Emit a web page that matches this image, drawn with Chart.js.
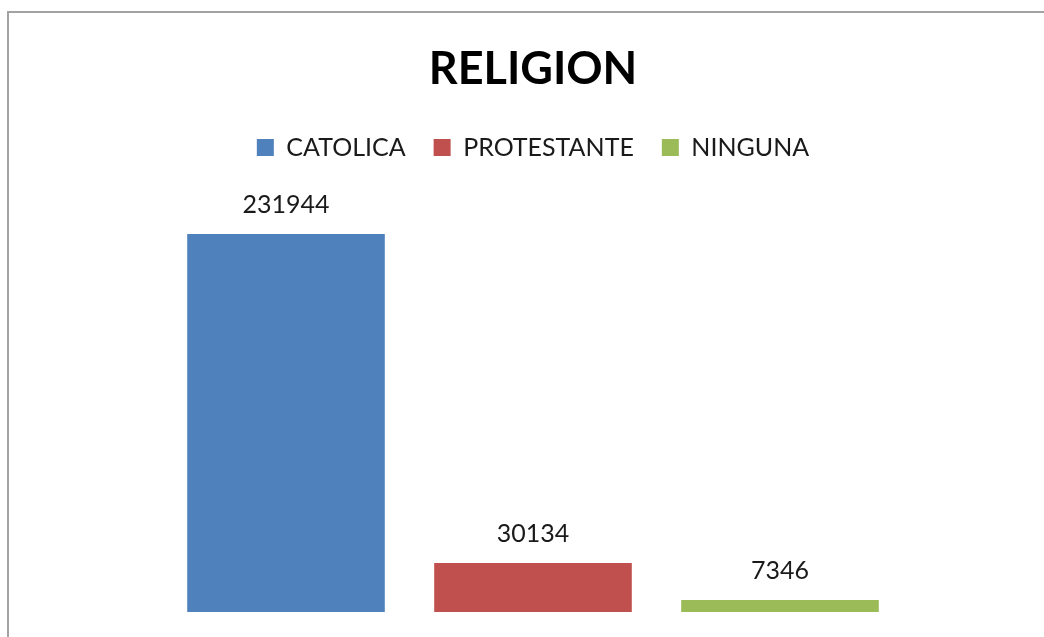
<!DOCTYPE html>
<html>
<head>
<meta charset="utf-8">
<script src="https://cdn.jsdelivr.net/npm/chart.js@4"></script>
<style>
  html, body { margin: 0; padding: 0; overflow: hidden; background: #fff; }
  #frame {
    position: absolute; left: 7px; top: 11px; width: 2000px; height: 2000px;
    border-top: 2px solid #a3a3a3; border-left: 2px solid #a3a3a3;
  }
  #graph { position: absolute; left: 0; top: 0; }
</style>
</head>
<body>
<div id="frame"></div>
<canvas id="graph" width="1044" height="637"></canvas>
<script>
const categories = ["CATOLICA", "PROTESTANTE", "NINGUNA"];
const values = [231944, 30134, 7346];
const colors = ["#4F81BD", "#C0504D", "#9BBB59"];

// draws the number above each bar
const valueLabels = {
    id: "valueLabels",
    afterDatasetsDraw(chart) {
        const ctx = chart.ctx;
        ctx.save();
        ctx.font = "25px Lato";
        ctx.fillStyle = "#1a1a1a";
        ctx.textAlign = "center";
        ctx.textBaseline = "alphabetic";
        chart.data.datasets.forEach((ds, i) => {
            const bar = chart.getDatasetMeta(i).data[0];
            ctx.fillText(String(ds.data[0]), bar.x, bar.y - 21);
        });
        ctx.restore();
    }
};

const graph = document.getElementById("graph").getContext("2d");

let myChart = new Chart(graph, {
    type: "bar",
    data: {
        labels: [""],
        datasets: categories.map((name, i) => ({
            label: name,
            data: [values[i]],
            backgroundColor: colors[i],
            borderWidth: 0,
            barPercentage: 0.8,
            categoryPercentage: 0.7515
        }))
    },
    options: {
        responsive: false,
        animation: false,
        layout: {
            padding: { left: 40, right: 18, top: 0, bottom: 25 }
        },
        plugins: {
            title: {
                display: true,
                text: "RELIGION",
                color: "#000",
                font: { family: "Lato", size: 45, weight: "bold" },
                padding: { top: 42, bottom: 11 }
            },
            legend: {
                display: true,
                labels: {
                    color: "#1a1a1a",
                    font: { family: "Lato", size: 25 },
                    boxWidth: 17,
                    boxHeight: 17,
                    padding: 28
                }
            },
            tooltip: { enabled: false }
        },
        scales: {
            x: { display: false },
            y: { display: false, min: 0, max: 271200 }
        }
    },
    plugins: [valueLabels]
});
</script>
</body>
</html>
